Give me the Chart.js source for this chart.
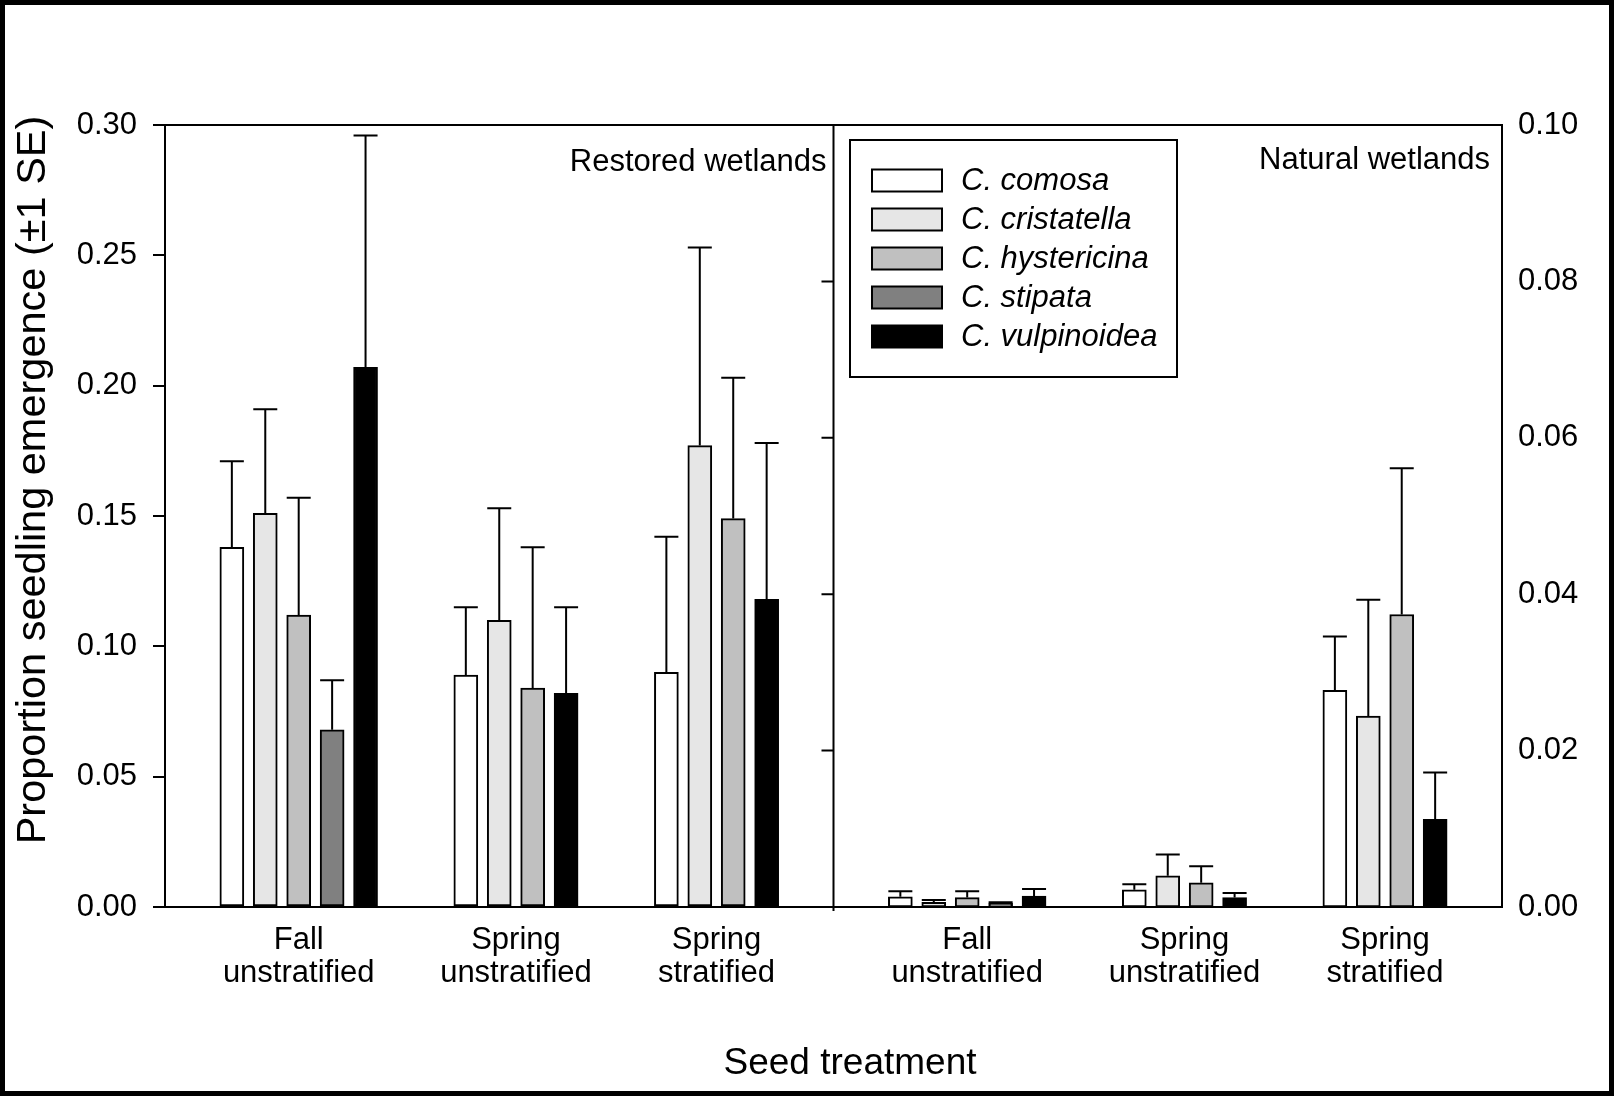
<!DOCTYPE html>
<html>
<head>
<meta charset="utf-8">
<script src="https://cdn.jsdelivr.net/npm/chart.js@4.4.1/dist/chart.umd.min.js"></script>
<style>
  body { margin: 0; background: #fff; }
  #wrap { position: relative; width: 1614px; height: 1096px; }
  #frame { position: absolute; left: 0; top: 0; width: 1614px; height: 1096px; border: 5px solid #000; box-sizing: border-box; pointer-events: none; }
</style>
</head>
<body>
<div id="wrap">
  <canvas id="chart" width="1614" height="1096"></canvas>
  <div id="frame"></div>
</div>
<script>
const FONT = "'Liberation Sans', Arial, Helvetica, sans-serif";

const treatments = [['Fall', 'unstratified'], ['Spring', 'unstratified'], ['Spring', 'stratified']];
const panels = ['Restored wetlands', 'Natural wetlands'];
const species = ['C. comosa', 'C. cristatella', 'C. hystericina', 'C. stipata', 'C. vulpinoidea'];
const fills = ['#ffffff', '#e6e6e6', '#c0c0c0', '#808080', '#000000'];

// rows = species, columns = treatments (null = not tested)
const restoredMean = [
  [0.138, 0.089, 0.090],
  [0.151, 0.110, 0.177],
  [0.112, 0.084, 0.149],
  [0.068, null, null],
  [0.207, 0.082, 0.118]
];
const restoredSE = [
  [0.033, 0.026, 0.052],
  [0.040, 0.043, 0.076],
  [0.045, 0.054, 0.054],
  [0.019, null, null],
  [0.089, 0.033, 0.060]
];
const naturalMean = [
  [0.0013, 0.0022, 0.0277],
  [0.0006, 0.0040, 0.0244],
  [0.0012, 0.0031, 0.0374],
  [0.0005, null, null],
  [0.0014, 0.0012, 0.0112]
];
const naturalSE = [
  [0.0007, 0.0007, 0.0069],
  [0.0003, 0.0027, 0.0149],
  [0.0008, 0.0021, 0.0187],
  [0.0001, null, null],
  [0.0009, 0.0006, 0.0060]
];

const restoredTicks = [0, 0.05, 0.10, 0.15, 0.20, 0.25, 0.30];
const naturalTicks = [0, 0.02, 0.04, 0.06, 0.08, 0.10];

// lay the bars out in slots, missing species are closed up
const panelData = [
  { mean: restoredMean, se: restoredSE, axis: 'y' },
  { mean: naturalMean, se: naturalSE, axis: 'y2' }
];
const datasets = [];
const catPos = [];
const catLabels = [];
let dividerX = 0;
let slot = 2;
panelData.forEach((pd, p) => {
  if (p > 0) { dividerX = slot - 1; slot += 1; }
  const sets = species.map((name, s) => ({
    label: name,
    yAxisID: pd.axis,
    backgroundColor: fills[s],
    borderColor: '#000',
    borderWidth: 2,
    borderSkipped: false,
    data: [],
    se: []
  }));
  treatments.forEach((t, g) => {
    const first = slot;
    species.forEach((name, s) => {
      const v = pd.mean[s][g];
      if (v === null) return;
      sets[s].data.push({ x: slot, y: v });
      sets[s].se.push(pd.se[s][g]);
      slot++;
    });
    catPos.push((first + slot - 1) / 2);
    catLabels.push(t);
    slot += 2;
  });
  datasets.push(...sets);
});

const decor = {
  id: 'decor',
  afterDatasetsDraw(chart) {
    const ctx = chart.ctx;
    const area = chart.chartArea;
    ctx.save();
    ctx.strokeStyle = '#000';
    ctx.lineWidth = 2;

    // error bars (+1 SE)
    chart.data.datasets.forEach((ds, i) => {
      const meta = chart.getDatasetMeta(i);
      const ys = chart.scales[meta.yAxisID];
      meta.data.forEach((bar, j) => {
        const top = ys.getPixelForValue(ds.data[j].y + ds.se[j]);
        const half = bar.width / 2;
        ctx.beginPath();
        ctx.moveTo(bar.x, bar.y);
        ctx.lineTo(bar.x, top);
        ctx.moveTo(bar.x - half, top);
        ctx.lineTo(bar.x + half, top);
        ctx.stroke();
      });
    });

    // frame top and panel divider
    ctx.beginPath();
    ctx.moveTo(area.left, area.top);
    ctx.lineTo(area.right, area.top);
    const dx = chart.scales.x.getPixelForValue(dividerX);
    ctx.moveTo(dx, area.top);
    ctx.lineTo(dx, area.bottom + 4);
    chart.scales.y2.ticks.forEach(t => {
      if (t.value <= 0 || t.value >= 0.1) return;
      const ty = chart.scales.y2.getPixelForValue(t.value);
      ctx.moveTo(dx - 12, ty);
      ctx.lineTo(dx, ty);
    });
    ctx.stroke();

    // panel titles
    ctx.fillStyle = '#000';
    ctx.font = '31px ' + FONT;
    ctx.textAlign = 'right';
    ctx.textBaseline = 'alphabetic';
    ctx.fillText(panels[0], dx - 7, 171);
    ctx.fillText(panels[1], area.right - 12, 169);

    // legend
    const lx = 850, ly = 140, lw = 327, lh = 237;
    ctx.strokeRect(lx, ly, lw, lh);
    ctx.font = 'italic 31px ' + FONT;
    ctx.textAlign = 'left';
    ctx.textBaseline = 'middle';
    species.forEach((name, s) => {
      const cy = 180.5 + s * 39;
      ctx.fillStyle = fills[s];
      ctx.fillRect(lx + 22, cy - 11, 70, 22);
      ctx.strokeRect(lx + 22, cy - 11, 70, 22);
      ctx.fillStyle = '#000';
      ctx.fillText(name, lx + 111, cy + 1);
    });

    // axis titles
    ctx.textAlign = 'center';
    ctx.font = '37px ' + FONT;
    ctx.fillText('Seed treatment', 850, 1064);
    ctx.save();
    ctx.translate(34, 480);
    ctx.rotate(-Math.PI / 2);
    ctx.font = '41.5px ' + FONT;
    ctx.fillText('Proportion seedling emergence (\u00b11 SE)', 0, 0);
    ctx.restore();

    ctx.restore();
  }
};

const tickFont = { family: FONT, size: 31, lineHeight: 1.065 };

new Chart(document.getElementById('chart').getContext('2d'), {
  type: 'bar',
  data: { datasets },
  options: {
    responsive: false,
    animation: false,
    layout: { padding: { top: 125 } },
    datasets: { bar: { grouped: false, barThickness: 24 } },
    plugins: { legend: { display: false }, tooltip: { enabled: false } },
    scales: {
      x: {
        type: 'linear',
        min: 0,
        max: 40,
        offset: false,
        grid: { display: false, drawTicks: false, offset: false },
        border: { color: '#000', width: 2 },
        afterBuildTicks: s => { s.ticks = catPos.map(v => ({ value: v })); },
        ticks: {
          autoSkip: false,
          maxRotation: 0,
          padding: 17,
          color: '#000',
          font: tickFont,
          callback: (v, i) => catLabels[i]
        },
        afterFit: s => { s.height = 189; }
      },
      y: {
        position: 'left',
        min: 0,
        max: 0.3,
        afterBuildTicks: s => { s.ticks = restoredTicks.map(v => ({ value: v })); },
        ticks: { padding: 16, color: '#000', font: tickFont, callback: v => v.toFixed(2) },
        grid: { drawOnChartArea: false, tickLength: 12, color: '#000', lineWidth: 2 },
        border: { color: '#000', width: 2 },
        afterFit: s => { s.width = 165; }
      },
      y2: {
        position: 'right',
        min: 0,
        max: 0.1,
        afterBuildTicks: s => { s.ticks = naturalTicks.map(v => ({ value: v })); },
        ticks: { padding: 16, color: '#000', font: tickFont, callback: v => v.toFixed(2) },
        grid: { display: false, drawTicks: false },
        border: { color: '#000', width: 2 },
        afterFit: s => { s.width = 112; }
      }
    }
  },
  plugins: [decor]
});
</script>
</body>
</html>
